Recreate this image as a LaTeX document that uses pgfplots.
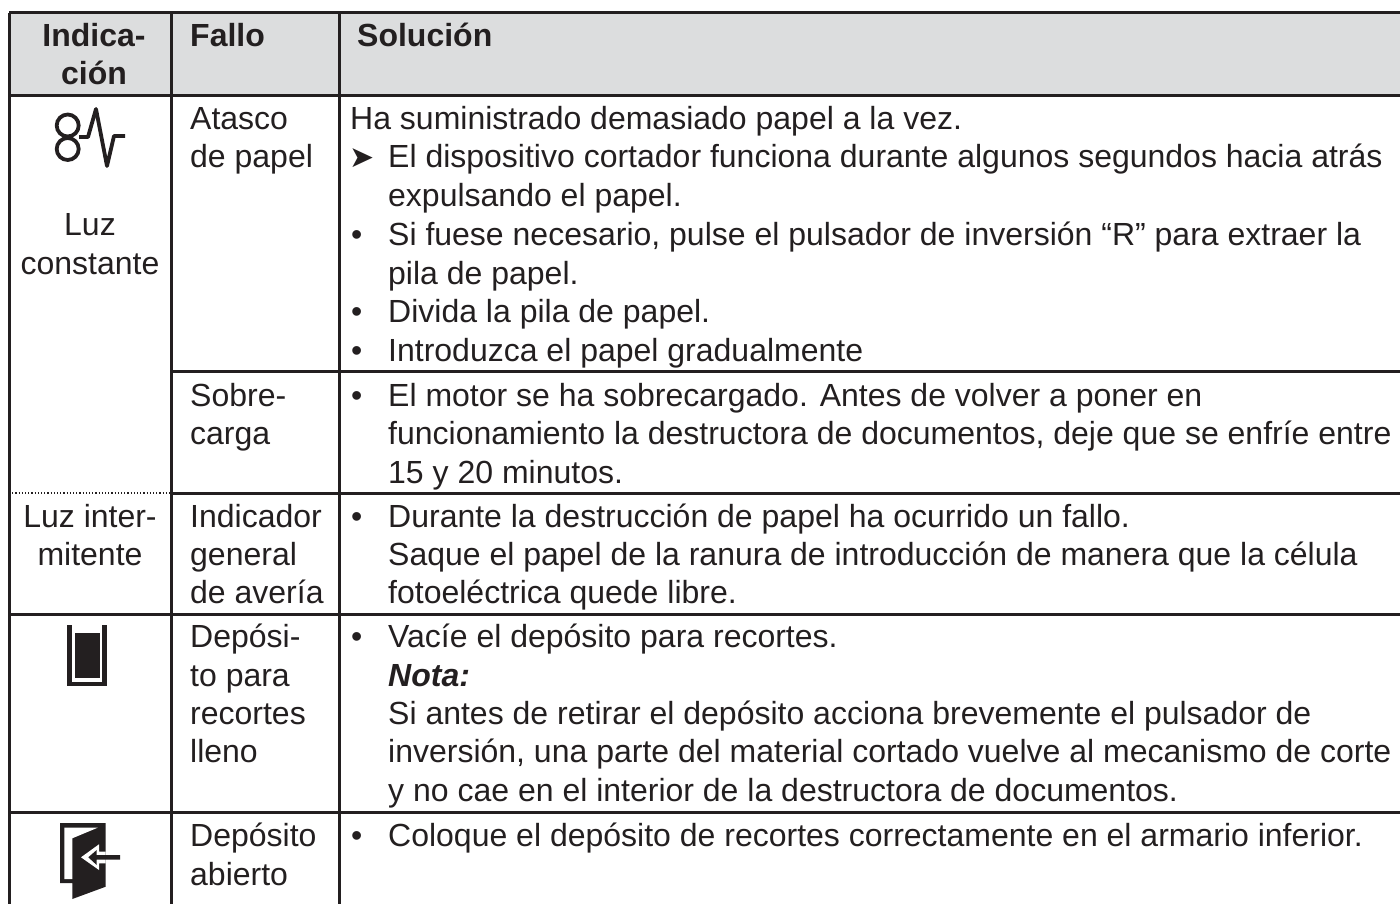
\documentclass[border=0pt]{standalone}
\usepackage{pgfplots}
\pgfplotsset{compat=1.18}
\usepackage{fontspec}
\setmainfont{Liberation Sans}
\newfontfamily\djv{DejaVu Sans}
\definecolor{ink}{HTML}{231F20}
\definecolor{head}{HTML}{DCDDDE}
\newcommand{\fs}{\fontsize{32pt}{38pt}\selectfont}
\newcommand{\T}[3]{\node[anchor=base west,inner sep=0pt,text=ink,font=\fs] at (axis cs:#1,#2) {#3};}
\newcommand{\C}[3]{\node[anchor=base,inner sep=0pt,text=ink,font=\fs] at (axis cs:#1,#2) {#3};}
\begin{document}
\begin{tikzpicture}
\path[use as bounding box] (0,0) rectangle (1400pt,904pt);
\begin{axis}[at={(0,0)},anchor=south west,scale only axis,width=1400pt,height=904pt,xmin=0,xmax=1400,ymin=0,ymax=904,y dir=reverse,hide axis,clip=true]
\addplot[fill=head,draw=none] coordinates {(9,13)(1400,13)(1400,96)(9,96)} --cycle;
% rules
\addplot[ink,line width=3pt] coordinates {(9,13)(1400,13)};
\addplot[ink,line width=3pt] coordinates {(9,96)(1400,96)};
\addplot[ink,line width=3pt] coordinates {(171,371)(1400,371)};
\addplot[ink,line width=3pt] coordinates {(171,493)(1400,493)};
\addplot[ink,line width=1.2pt,dotted] coordinates {(9,493)(171,493)};
\addplot[ink,line width=3pt] coordinates {(9,614)(1400,614)};
\addplot[ink,line width=3pt] coordinates {(9,812)(1400,812)};
\addplot[ink,line width=3pt] coordinates {(9,13)(9,904)};
\addplot[ink,line width=3pt] coordinates {(171,13)(171,904)};
\addplot[ink,line width=3pt] coordinates {(339,13)(339,904)};
% icon jam
\addplot[ink,line width=3.8pt,line join=round] coordinates {(79,137)(88,137)(96,109)(107,166)(114,136)(125,136)};
\draw[ink,line width=3.8pt] (axis cs:67.7,125.5) circle[radius=11pt];
\draw[ink,line width=3.8pt] (axis cs:67.7,149) circle[radius=11pt];
% icon bin
\addplot[ink,line width=4.5pt,line join=miter] coordinates {(69.5,625)(69.5,684)(104.5,684)(104.5,625)};
\addplot[fill=ink,draw=none] coordinates {(74.5,633)(100,633)(100,678)(74.5,678)} --cycle;
% icon door
\addplot[fill=ink,draw=none] coordinates {(60,823)(105.7,823)(105.7,886.7)(72.3,899)(72.3,883)(60,883)} --cycle;
\addplot[fill=white,draw=none] coordinates {(64.3,827.7)(97.7,827.7)(72.3,838.3)(72.3,879)(64.3,879)} --cycle;
\addplot[fill=white,draw=none] coordinates {(81,857.3)(99,844.3)(99,851.7)(105.7,851.7)(105.7,863.3)(99,863.3)(99,870)} --cycle;
\addplot[fill=ink,draw=none] coordinates {(88.3,857.3)(96.7,850)(96.7,855)(120,855)(120,859.7)(96.7,859.7)(96.7,865)} --cycle;
% header
\node[anchor=base,inner sep=0pt,text=ink,font=\fs\bfseries] at (axis cs:94,47) {Indica-};
\node[anchor=base,inner sep=0pt,text=ink,font=\fs\bfseries] at (axis cs:94,85) {ción};
\node[anchor=base west,inner sep=0pt,text=ink,font=\fs\bfseries] at (axis cs:190,47) {Fallo};
\node[anchor=base west,inner sep=0pt,text=ink,font=\fs\bfseries] at (axis cs:357,47) {Solución};
% col 1
\C{90}{236}{Luz}
\C{90}{274}{constante}
\C{90}{527}{Luz inter-}
\C{90}{565}{mitente}
% col 2
\T{190}{130}{Atasco}
\T{190}{168}{de papel}
\T{190}{406}{Sobre-}
\T{190}{444}{carga}
\T{190}{527}{Indicador}
\T{190}{565}{general}
\T{190}{603}{de avería}
\T{190}{647}{Depósi-}
\T{190}{686}{to para}
\T{190}{724}{recortes}
\T{190}{762}{lleno}
\T{190}{846}{Depósito}
\T{190}{885}{abierto}
% col 3
\T{350}{130}{Ha suministrado demasiado papel a la vez.}
\node[anchor=base west,inner sep=0pt,text=ink,font={\fontsize{30pt}{30pt}\selectfont\djv}] at (axis cs:349.5,168) {➤};
\T{388}{168}{El dispositivo cortador funciona durante algunos segundos hacia atrás}
\T{388}{207}{expulsando el papel.}
\T{351}{245}{•}
\T{388}{245}{Si fuese necesario, pulse el pulsador de inversión “R” para extraer la}
\T{388}{284}{pila de papel.}
\T{351}{322}{•}
\T{388}{322}{Divida la pila de papel.}
\T{351}{361}{•}
\T{388}{361}{Introduzca el papel gradualmente}
\T{351}{406}{•}
\T{388}{406}{El motor se ha sobrecargado. Antes de volver a poner en}
\T{388}{444}{funcionamiento la destructora de documentos, deje que se enfríe entre}
\T{388}{483}{15 y 20 minutos.}
\T{351}{527}{•}
\T{388}{527}{Durante la destrucción de papel ha ocurrido un fallo.}
\T{388}{565}{Saque el papel de la ranura de introducción de manera que la célula}
\T{388}{603}{fotoeléctrica quede libre.}
\T{351}{647}{•}
\T{388}{647}{Vacíe el depósito para recortes.}
\node[anchor=base west,inner sep=0pt,text=ink,font=\fs\bfseries\itshape] at (axis cs:388,686) {Nota:};
\T{388}{724}{Si antes de retirar el depósito acciona brevemente el pulsador de}
\T{388}{762}{inversión, una parte del material cortado vuelve al mecanismo de corte}
\T{388}{801}{y no cae en el interior de la destructora de documentos.}
\T{351}{846}{•}
\T{388}{846}{Coloque el depósito de recortes correctamente en el armario inferior.}
\end{axis}
\end{tikzpicture}
\end{document}
